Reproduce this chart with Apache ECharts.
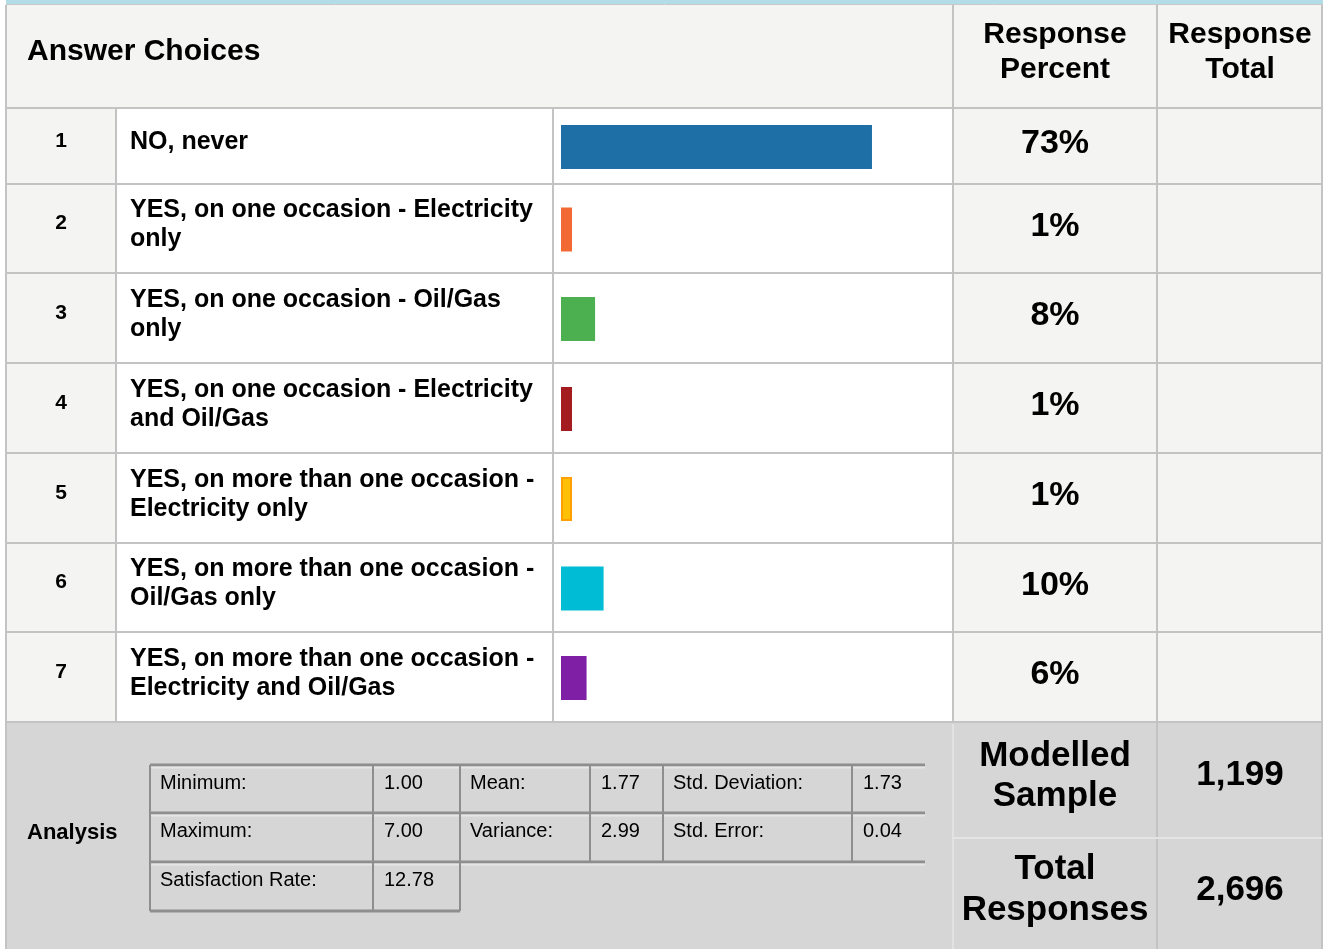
<!DOCTYPE html>
<html>
<head>
<meta charset="utf-8">
<script src="https://cdn.jsdelivr.net/npm/echarts@6/dist/echarts.min.js"></script>
<style>
  body { margin: 0; background: #fff; }
  #chart { width: 1323px; height: 949px; }
</style>
</head>
<body>
<div id="chart"></div>
<script>
// survey data
var rowNumbers = ['1', '2', '3', '4', '5', '6', '7'];
var choices = [
  'NO, never',
  'YES, on one occasion - Electricity\nonly',
  'YES, on one occasion - Oil/Gas\nonly',
  'YES, on one occasion - Electricity\nand Oil/Gas',
  'YES, on more than one occasion -\nElectricity only',
  'YES, on more than one occasion -\nOil/Gas only',
  'YES, on more than one occasion -\nElectricity and Oil/Gas'
];
var percents = [73, 1, 8, 1, 1, 10, 6];
var barColors = ['#1d6fa5', '#f26934', '#4caf50', '#a51c20', '#ffc107', '#00bcd4', '#7f1fa6'];
var statLabels = ['Minimum:', 'Mean:', 'Std. Deviation:', 'Maximum:', 'Variance:', 'Std. Error:', 'Satisfaction Rate:'];
var statValues = ['1.00', '1.77', '1.73', '7.00', '2.99', '0.04', '12.78'];
var modelledSample = 1199;
var totalResponses = 2696;

var FONT = 'Liberation Sans';
var GRID = '#c3c3c3';
var LIGHT = '#f4f4f2';
var ANALYSIS_BG = '#d6d6d6';

// table layout
var colX = [6, 116, 553, 953, 1157, 1322];
var rowY = [5, 108, 184, 273, 363, 453, 543, 632, 722];
var bottom = 949;

var g = [];
function rect (x, y, w, h, fill, z) {
  g.push({ type: 'rect', shape: { x: x, y: y, width: w, height: h }, style: { fill: fill }, z: z || 0, silent: true });
}
function line (x1, y1, x2, y2, color, w) {
  g.push({ type: 'line', shape: { x1: x1, y1: y1, x2: x2, y2: y2 }, style: { stroke: color, lineWidth: w || 2 }, z: 1, silent: true });
}
function text (x, y, str, size, weight, align, lh) {
  g.push({
    type: 'text', x: x, y: y, z: 5, silent: true,
    style: {
      text: str, fill: '#000',
      fontFamily: FONT, fontSize: size, fontWeight: weight || 'normal',
      align: align || 'left', verticalAlign: 'middle', lineHeight: lh || Math.round(size * 1.3)
    }
  });
}

// backgrounds
rect(6, 0, 1317, 4, '#b2dce6');
rect(6, 5, 1316, 103, LIGHT);
for (var i = 0; i < 7; i++) {
  var y0 = rowY[i + 1], h = rowY[i + 2] - rowY[i + 1];
  rect(colX[0], y0, colX[1] - colX[0], h, LIGHT);
  rect(colX[1], y0, colX[3] - colX[1], h, '#ffffff');
  rect(colX[3], y0, colX[5] - colX[3], h, LIGHT);
}
rect(6, 722, 1316, bottom - 722, ANALYSIS_BG);

// grid lines
line(6, 4.5, 1323, 4.5, '#c8c8c8', 1);
for (var r = 1; r < rowY.length; r++) line(6, rowY[r], 1322, rowY[r], GRID);
line(colX[0], 5, colX[0], bottom, GRID);
line(colX[1], 108, colX[1], 722, GRID);
line(colX[2], 108, colX[2], 722, GRID);
line(colX[3], 5, colX[3], 722, GRID);
line(colX[3], 724, colX[3], bottom, '#e2e2e2');
line(colX[4], 5, colX[4], bottom, GRID);
line(colX[5], 5, colX[5], bottom, GRID);
line(colX[3], 838, colX[5], 838, '#e4e4e4');

// header text
text(27, 52, 'Answer Choices', 30, 'bold');
text(1055, 52, 'Response\nPercent', 30, 'bold', 'center', 35);
text(1240, 52, 'Response\nTotal', 30, 'bold', 'center', 35);

// rows
for (var k = 0; k < 7; k++) {
  var mid = (rowY[k + 1] + rowY[k + 2]) / 2;
  text(61, mid - 5, rowNumbers[k], 21, 'bold', 'center');
  text(130, mid - 3.5, choices[k], 25, 'bold', 'left', 29);
  text(1055, mid - 2, percents[k] + '%', 34, 'bold', 'center');
}

// analysis block
text(27, 833, 'Analysis', 22, 'bold');
var sRows = [765, 813, 862, 911];
var sCols = [150, 373, 460, 590, 663, 852, 925];
for (var s = 0; s < 3; s++) {
  line(150, sRows[s], 925, sRows[s], '#8e8e8e', 3);
  line(150, sRows[s] + 2.5, 925, sRows[s] + 2.5, '#e6e6e6', 2);
}
line(150, sRows[3], 460, sRows[3], '#8e8e8e', 3);
for (var c = 0; c < 6; c++) line(sCols[c], sRows[0], sCols[c], sRows[2], '#8e8e8e', 2);
line(sCols[0], sRows[2], sCols[0], sRows[3], '#8e8e8e', 2);
line(sCols[1], sRows[2], sCols[1], sRows[3], '#8e8e8e', 2);
line(sCols[2], sRows[2], sCols[2], sRows[3], '#8e8e8e', 2);
for (var q = 0; q < statLabels.length; q++) {
  var rr = Math.floor(q / 3), cc = (q % 3) * 2;
  var ty = sRows[rr] + 18;
  text(sCols[cc] + 10, ty, statLabels[q], 20);
  text(sCols[cc + 1] + 11, ty, statValues[q], 20);
}
text(1055, 776, 'Modelled\nSample', 35, 'bold', 'center', 40);
text(1240, 775, modelledSample.toLocaleString('en-US'), 35, 'bold', 'center');
text(1055, 890, 'Total\nResponses', 35, 'bold', 'center', 41);
text(1240, 890, totalResponses.toLocaleString('en-US'), 35, 'bold', 'center');

// one small grid per row so each bar sits in its table cell
var grids = [], xAxes = [], yAxes = [], series = [];
for (var b = 0; b < percents.length; b++) {
  grids.push({ left: 561, width: 426, top: rowY[b + 1] + 1, height: rowY[b + 2] - rowY[b + 1] });
  xAxes.push({ type: 'value', gridIndex: b, min: 0, max: 100, show: false });
  yAxes.push({ type: 'category', gridIndex: b, data: [rowNumbers[b]], show: false });
  series.push({
    type: 'bar', xAxisIndex: b, yAxisIndex: b,
    data: [percents[b]], barWidth: 44, barMinHeight: 11,
    itemStyle: { color: barColors[b], borderColor: b === 4 ? '#ffa000' : barColors[b], borderWidth: b === 4 ? 2 : 0 },
    silent: true, animation: false
  });
}

var chart = echarts.init(document.getElementById('chart'));
chart.setOption({
  animation: false,
  grid: grids,
  xAxis: xAxes,
  yAxis: yAxes,
  series: series,
  graphic: { elements: g }
});
</script>
</body>
</html>
